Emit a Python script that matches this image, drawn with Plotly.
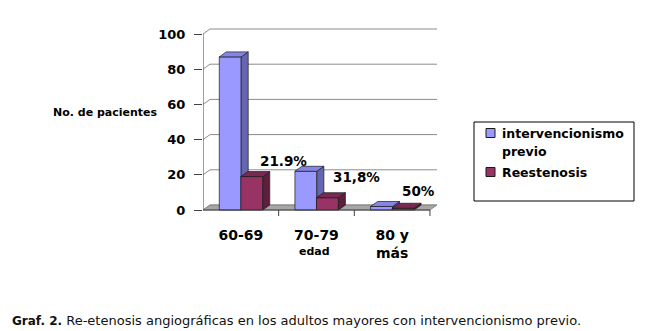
import plotly.graph_objects as go

# ---- data -------------------------------------------------------------
categories = ["60-69", "70-79", "80 y<br>más"]
previo = [87, 22, 2]
reestenosis = [19, 7, 1]
pct_labels = ["21.9%", "31,8%", "50%"]
y_ticks = [0, 20, 40, 60, 80, 100]
series_names = ["intervencionismo<br>previo", "Reestenosis"]
x_title = "edad"
y_title = "No. de pacientes"
caption_head = "Graf. 2."
caption_body = ("Re-etenosis angiográficas en los adultos mayores "
                "con intervencionismo previo.")

# ---- style / geometry -------------------------------------------------
W, H = 647, 331
FONT = "DejaVu Sans"
X_RANGE = [-0.5, 2.593]
Y_RANGE = [-5, 104]
PLOT_LEFT, PLOT_RIGHT = 203, 437          # px
PLOT_TOP, PLOT_BOTTOM = 26.96, 218.8      # px
PX_PER_X = (PLOT_RIGHT - PLOT_LEFT) / (X_RANGE[1] - X_RANGE[0])
PX_PER_Y = (PLOT_BOTTOM - PLOT_TOP) / (Y_RANGE[1] - Y_RANGE[0])
DX = 7 / PX_PER_X          # 3-D depth, horizontal
DY = 5 / PX_PER_Y          # 3-D depth, vertical
BAR_W = 0.29
OFFSETS = [-0.14, 0.145]
COLORS = [
    {"front": "#9999FF", "side": "#6666B0", "top": "#8585E6"},
    {"front": "#993366", "side": "#5E1F3E", "top": "#7A2952"},
]
EDGE = "#1a1a1a"
LABEL_SHIFTS = [(32, 16), (29, 21), (15, 17)]


def px_x(px):
    return px / W


def px_y(py):
    return 1 - py / H


fig = go.Figure()

# 3-D columns built as filled polygons (front, side, top) in data space
for s, values in enumerate([previo, reestenosis]):
    faces = {"front": ([], []), "side": ([], []), "top": ([], [])}
    for i, v in enumerate(values):
        x0 = i + OFFSETS[s] - BAR_W / 2
        x1 = i + OFFSETS[s] + BAR_W / 2
        polys = {
            "front": [(x0, 0), (x1, 0), (x1, v), (x0, v)],
            "side": [(x1, 0), (x1 + DX, DY), (x1 + DX, v + DY), (x1, v)],
            "top": [(x0, v), (x1, v), (x1 + DX, v + DY), (x0 + DX, v + DY)],
        }
        for name, pts in polys.items():
            xs, ys = faces[name]
            xs.extend([p[0] for p in pts] + [pts[0][0], None])
            ys.extend([p[1] for p in pts] + [pts[0][1], None])
    for name in ["front", "side", "top"]:
        xs, ys = faces[name]
        fig.add_trace(go.Scatter(
            x=xs, y=ys, mode="lines", fill="toself",
            fillcolor=COLORS[s][name],
            line=dict(color=EDGE, width=0.7),
            hoverinfo="skip", showlegend=False,
        ))

shapes = []
# floor
shapes.append(dict(
    type="path", xref="x", yref="y", layer="below",
    path=(f"M {X_RANGE[0]},0 L 2.5,0 L {2.5 + DX},{DY} "
          f"L {X_RANGE[0] + DX},{DY} Z"),
    fillcolor="#A6A6A6", line=dict(color="#8a8a8a", width=1),
))
# back-wall gridlines with their connectors to the axis
for v in y_ticks:
    shapes.append(dict(
        type="path", xref="x", yref="y", layer="below",
        path=(f"M {X_RANGE[0]},{v} L {X_RANGE[0] + DX},{v + DY} "
              f"L {X_RANGE[1]},{v + DY}"),
        line=dict(color="#8c8c8c", width=1),
    ))
# value axis line
shapes.append(dict(type="line", xref="x", yref="y", layer="above",
                   x0=X_RANGE[0], x1=X_RANGE[0], y0=0, y1=100,
                   line=dict(color="#404040", width=1)))
# category axis line and separators
shapes.append(dict(type="line", xref="x", yref="y", layer="above",
                   x0=X_RANGE[0], x1=2.5, y0=0, y1=0,
                   line=dict(color="#404040", width=1)))
for k in range(len(categories)):
    shapes.append(dict(type="line", xref="x", yref="y", layer="above",
                       x0=k + 0.5, x1=k + 0.5, y0=0, y1=-6 / PX_PER_Y,
                       line=dict(color="#404040", width=1)))

annotations = []
# percentage labels above the Reestenosis columns
for i, txt in enumerate(pct_labels):
    annotations.append(dict(
        x=i + OFFSETS[1], y=reestenosis[i], xref="x", yref="y",
        text=f"<b>{txt}</b>", showarrow=False,
        xanchor="center", yanchor="middle",
        xshift=LABEL_SHIFTS[i][0], yshift=LABEL_SHIFTS[i][1],
        font=dict(family=FONT, size=13.5, color="black"),
    ))
# axis titles
annotations.append(dict(
    x=1, y=0, xref="x", yref="y", text=f"<b>{x_title}</b>",
    showarrow=False, xanchor="center", yanchor="middle",
    xshift=-2, yshift=-(251 - 210),
    font=dict(family=FONT, size=11, color="black"),
))
annotations.append(dict(
    x=px_x(105), y=px_y(113), xref="paper", yref="paper",
    text=f"<b>{y_title}</b>", showarrow=False,
    xanchor="center", yanchor="middle",
    font=dict(family=FONT, size=11, color="black"),
))

# legend box
shapes.append(dict(type="rect", xref="paper", yref="paper",
                   x0=px_x(474), x1=px_x(634), y0=px_y(201), y1=px_y(122),
                   line=dict(color="black", width=1), fillcolor="white"))
legend_rows = [[133, 152], [172]]
for s, name in enumerate(series_names):
    rows = legend_rows[s]
    sq_c = rows[0]
    shapes.append(dict(type="rect", xref="paper", yref="paper",
                       x0=px_x(486), x1=px_x(495),
                       y0=px_y(sq_c + 4.5), y1=px_y(sq_c - 4.5),
                       fillcolor=COLORS[s]["front"],
                       line=dict(color=EDGE, width=1)))
    for line_txt, ypx in zip(name.split("<br>"), rows):
        annotations.append(dict(
            x=px_x(500), y=px_y(ypx), xref="paper", yref="paper",
            text=f"<b>{line_txt}</b>", showarrow=False,
            xanchor="left", yanchor="middle",
            font=dict(family=FONT, size=12.5, color="black"),
        ))

# caption
annotations.append(dict(
    x=px_x(10), y=px_y(320), xref="paper", yref="paper",
    text=(f"<b><span style='font-size:12px'>{caption_head}</span></b> "
          f"{caption_body}"),
    showarrow=False, xanchor="left", yanchor="middle",
    font=dict(family=FONT, size=13, color="#111111"),
))

fig.update_layout(
    width=W, height=H,
    margin=dict(l=0, r=0, t=0, b=0),
    paper_bgcolor="white", plot_bgcolor="white",
    showlegend=False,
    shapes=shapes, annotations=annotations,
    xaxis=dict(
        domain=[px_x(PLOT_LEFT), px_x(PLOT_RIGHT)],
        range=X_RANGE, showgrid=False, zeroline=False, showline=False,
        tickmode="array", tickvals=list(range(len(categories))),
        ticktext=[f"<b>{c}</b>" for c in categories],
        ticks="", ticklabelstandoff=6,
        tickfont=dict(family=FONT, size=14, color="black"),
    ),
    yaxis=dict(
        domain=[px_y(PLOT_BOTTOM), px_y(PLOT_TOP)],
        range=Y_RANGE, showgrid=False, zeroline=False, showline=False,
        tickmode="array", tickvals=y_ticks,
        ticktext=[f"<b>{t}</b>" for t in y_ticks],
        ticks="outside", ticklen=8, tickcolor="#404040",
        ticklabelstandoff=6,
        tickfont=dict(family=FONT, size=13, color="black"),
    ),
)

fig.write_html("out.html")
